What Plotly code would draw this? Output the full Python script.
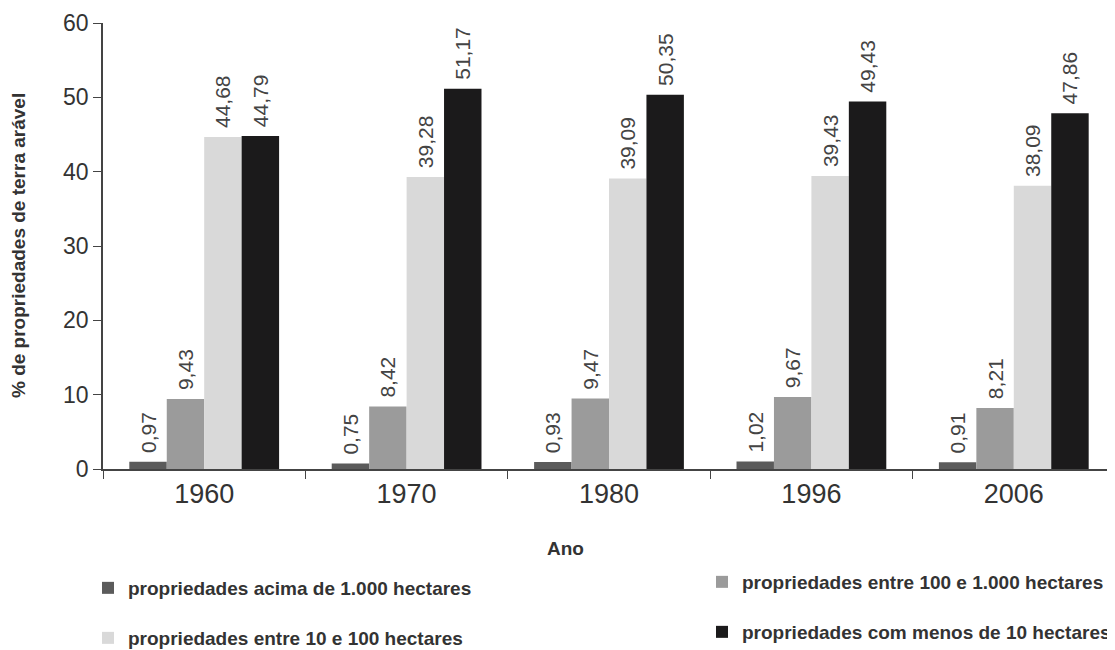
import plotly.graph_objects as go

anos = ["1960", "1970", "1980", "1996", "2006"]

acima_1000 = [0.97, 0.75, 0.93, 1.02, 0.91]
entre_100_1000 = [9.43, 8.42, 9.47, 9.67, 8.21]
entre_10_100 = [44.68, 39.28, 39.09, 39.43, 38.09]
menos_10 = [44.79, 51.17, 50.35, 49.43, 47.86]

nomes = [
    "propriedades acima de 1.000 hectares",
    "propriedades entre 100 e 1.000 hectares",
    "propriedades entre 10 e 100 hectares",
    "propriedades com menos de 10 hectares",
]
series = [acima_1000, entre_100_1000, entre_10_100, menos_10]
cores = ["#5b5b5b", "#9b9b9b", "#d9d9d9", "#1b1a1b"]
legendas = ["legend", "legend2", "legend3", "legend4"]

# a pagina tem margem de 8px no body, entao a figura e um pouco menor
W, H = 1107, 642
ML, MT, MB = 95, 15, 181
plot_w = W - ML
plot_h = H - MT - MB

fig = go.Figure()
for nome, valores, cor, leg in zip(nomes, series, cores, legendas):
    fig.add_trace(go.Bar(
        x=anos, y=valores, name=nome,
        marker=dict(color=cor, line=dict(width=0)),
        texttemplate="\u00a0%{y:.2f}", textposition="outside", textangle=-90,
        textfont=dict(size=21, color="#444", family="Liberation Sans"),
        constraintext="none", cliponaxis=False,
        legend=leg, showlegend=True,
    ))

fonte_leg = dict(size=19, color="#333", family="Liberation Sans", weight="bold")
base_leg = dict(bgcolor="rgba(0,0,0,0)", font=fonte_leg, xref="container", yref="container",
                xanchor="left", yanchor="middle")

fig.update_layout(
    width=W, height=H,
    paper_bgcolor="white", plot_bgcolor="white",
    margin=dict(l=ML, r=0, t=MT, b=MB, autoexpand=False),
    separators=",.",
    showlegend=True,
    barmode="group", bargap=0.26, bargroupgap=0,
    font=dict(family="Liberation Sans", color="#333"),
    xaxis=dict(
        type="category", showline=True, linecolor="#444", linewidth=1.5,
        ticks="outside", tickson="boundaries", ticklen=8, tickcolor="#444",
        tickfont=dict(size=27, color="#333"), automargin=False,
        showgrid=False,
    ),
    yaxis=dict(
        range=[0, 60], dtick=10, showline=True, linecolor="#444", linewidth=1.5,
        ticks="outside", ticklen=8, tickcolor="#444",
        tickfont=dict(size=23, color="#333"), automargin=False,
        showgrid=False, zeroline=False,
    ),
    legend=dict(x=80 / W, y=1 - 580 / H, **base_leg),
    legend2=dict(x=694 / W, y=1 - 574 / H, **base_leg),
    legend3=dict(x=80 / W, y=1 - 630 / H, **base_leg),
    legend4=dict(x=694 / W, y=1 - 624 / H, **base_leg),
    annotations=[
        dict(text="<b>Ano</b>", xref="paper", yref="paper",
             x=(557 - ML) / plot_w, y=(MT + plot_h - 540) / plot_h,
             xanchor="center", yanchor="middle", showarrow=False,
             font=dict(size=19, color="#333")),
        dict(text="<b>% de propriedades de terra arável</b>", xref="paper", yref="paper",
             x=(10 - ML) / plot_w, y=(MT + plot_h - 238) / plot_h, textangle=-90,
             xanchor="center", yanchor="middle", showarrow=False,
             font=dict(size=19, color="#333")),
    ],
)

fig.write_html("out.html")
